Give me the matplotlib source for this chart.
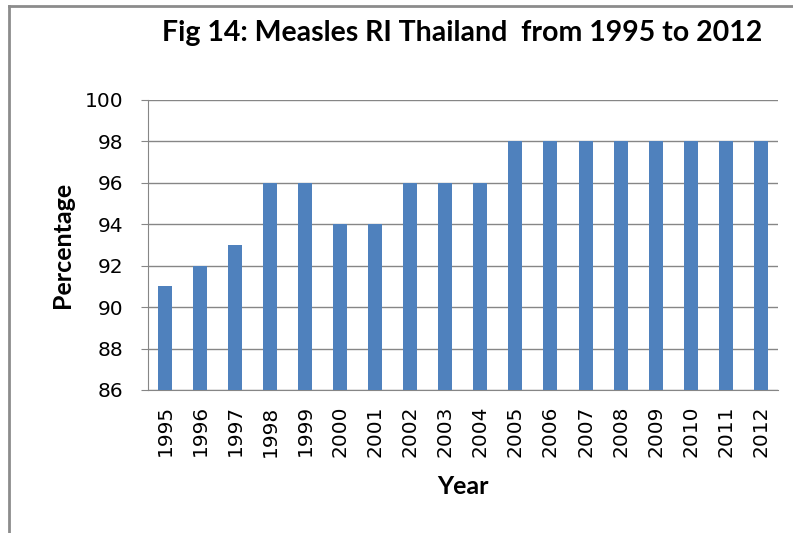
import matplotlib
matplotlib.use('Agg')
import matplotlib.pyplot as plt
from matplotlib.lines import Line2D

# ── Data ───────────────────────────────────
years = ['1995', '1996', '1997', '1998', '1999', '2000', '2001', '2002', '2003',
         '2004', '2005', '2006', '2007', '2008', '2009', '2010', '2011', '2012']
coverage = [91, 92, 93, 96, 96, 94, 94, 96, 96, 96, 98, 98, 98, 98, 98, 98, 98, 98]
y_ticks = [86, 88, 90, 92, 94, 96, 98, 100]

BAR_COLOR  = '#4F81BD'
GRID_COLOR = '#868686'
TICK_FONT  = 'DejaVu Sans'
LABEL_FONT = 'Lato'

fig = plt.figure(figsize=(7.93, 5.33), dpi=100)
ax = fig.add_axes([0.1866, 0.2683, 0.7945, 0.5441])

x = range(len(years))
ax.bar(x, coverage, width=0.4, color=BAR_COLOR, zorder=3)

ax.set_xlim(-0.5, len(years) - 0.5)
ax.set_ylim(86, 100)
ax.set_yticks(y_ticks)
ax.set_xticks(list(x))
ax.set_xticklabels(years, rotation=90, fontsize=14.5, family=TICK_FONT)
ax.set_yticklabels([str(v) for v in y_ticks], fontsize=14.5, family=TICK_FONT)

ax.grid(axis='y', color=GRID_COLOR, linewidth=1, zorder=0)
ax.tick_params(axis='y', direction='out', length=5, color=GRID_COLOR, pad=13)
ax.tick_params(axis='x', length=0, pad=11)

for side in ['top', 'right']:
    ax.spines[side].set_visible(False)
ax.spines['left'].set_color(GRID_COLOR)
ax.spines['bottom'].set_color(GRID_COLOR)

ax.set_ylabel('Percentage', fontsize=18, fontweight='bold', family=LABEL_FONT)
ax.set_xlabel('Year', fontsize=18, fontweight='bold', family=LABEL_FONT)
ax.yaxis.set_label_coords(-0.1357, 0.5)
ax.yaxis.label.set_ha('center')
ax.yaxis.label.set_va('center')
ax.xaxis.set_label_coords(0.5, -0.334)
ax.xaxis.label.set_va('center')

fig.text(0.583, 0.938, 'Fig 14: Measles RI Thailand  from 1995 to 2012',
         ha='center', va='center', fontsize=20.5, fontweight='bold', family=LABEL_FONT)

# ── Outer frame (left + top edges only visible) ──
fig.add_artist(Line2D([0.0113, 0.0113], [0, 0.988], color='#8c8c8c', linewidth=2,
                      transform=fig.transFigure))
fig.add_artist(Line2D([0.0113, 1.0], [0.988, 0.988], color='#8c8c8c', linewidth=2,
                      transform=fig.transFigure))

fig.savefig('out.png', dpi=100)
